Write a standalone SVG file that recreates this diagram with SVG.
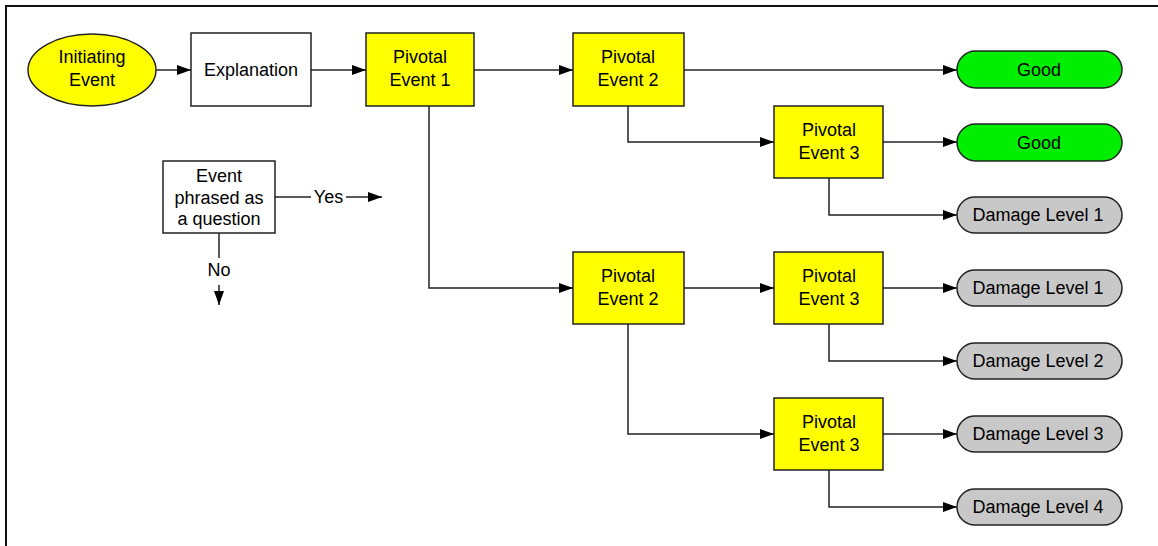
<svg xmlns="http://www.w3.org/2000/svg" width="1158" height="546" viewBox="0 0 1158 546">
<defs>
<marker id="arr" viewBox="0 0 14 10" refX="14" refY="5" markerWidth="14" markerHeight="10" markerUnits="userSpaceOnUse" orient="auto">
<path d="M0,0 L14,5 L0,10 Z" fill="#000"/>
</marker>
<style>
.t{font-family:"Liberation Sans",Arial,sans-serif;font-size:18px;fill:#000;text-anchor:middle}
.box{stroke:#222;stroke-width:1.5}
.yel{fill:#ffff00}
.wht{fill:#fff}
.grn{fill:#00ee00}
.gry{fill:#c8c8c8}
.c{fill:none;stroke:#222;stroke-width:1.5}
.ca{fill:none;stroke:#222;stroke-width:1.5;marker-end:url(#arr)}
</style>
</defs>
<rect width="1158" height="546" fill="#fff"/>
<path d="M6,546 V6 H1158" fill="none" stroke="#111" stroke-width="2"/>
<g id="connectors">
<path class="ca" d="M156,70 H191"/>
<path class="ca" d="M311,70 H366"/>
<path class="ca" d="M474,70 H573"/>
<path class="ca" d="M684,70 H957"/>
<path class="ca" d="M628,106 V142 H774"/>
<path class="ca" d="M883,142 H957"/>
<path class="ca" d="M829,178 V215 H957"/>
<path class="ca" d="M429,106 V288 H573"/>
<path class="ca" d="M684,288 H774"/>
<path class="ca" d="M883,288 H957"/>
<path class="ca" d="M829,324 V361 H957"/>
<path class="ca" d="M628,324 V434 H774"/>
<path class="ca" d="M883,434 H957"/>
<path class="ca" d="M829,470 V507 H957"/>
<path class="c" d="M275,197 H311"/>
<text class="t" x="328.5" y="203">Yes</text>
<path class="ca" d="M346,197 H382"/>
<path class="c" d="M219,233 V258"/>
<text class="t" x="219" y="276">No</text>
<path class="ca" d="M219,285 V305"/>
</g>
<g id="initiating">
<ellipse class="box yel" cx="92" cy="70" rx="64" ry="36"/>
<text class="t" x="92" y="63">Initiating</text>
<text class="t" x="92" y="86">Event</text>
</g>
<g id="explanation">
<rect class="box wht" x="191" y="33" width="120" height="73"/>
<text class="t" x="251" y="76">Explanation</text>
</g>
<g id="question">
<rect class="box wht" x="163" y="161" width="112" height="72"/>
<text class="t" x="219" y="182">Event</text>
<text class="t" x="219" y="204">phrased as</text>
<text class="t" x="219" y="225">a question</text>
</g>
<g id="pe1">
<rect class="box yel" x="366" y="33" width="108" height="73"/>
<text class="t" x="420" y="63">Pivotal</text>
<text class="t" x="420" y="86">Event 1</text>
</g>
<g id="pe2a">
<rect class="box yel" x="573" y="33" width="111" height="73"/>
<text class="t" x="628" y="63">Pivotal</text>
<text class="t" x="628" y="86">Event 2</text>
</g>
<g id="pe3a">
<rect class="box yel" x="774" y="106" width="109" height="72"/>
<text class="t" x="829" y="136">Pivotal</text>
<text class="t" x="829" y="159">Event 3</text>
</g>
<g id="pe2b">
<rect class="box yel" x="573" y="252" width="111" height="72"/>
<text class="t" x="628" y="282">Pivotal</text>
<text class="t" x="628" y="305">Event 2</text>
</g>
<g id="pe3b">
<rect class="box yel" x="774" y="252" width="109" height="72"/>
<text class="t" x="829" y="282">Pivotal</text>
<text class="t" x="829" y="305">Event 3</text>
</g>
<g id="pe3c">
<rect class="box yel" x="774" y="398" width="109" height="72"/>
<text class="t" x="829" y="428">Pivotal</text>
<text class="t" x="829" y="451">Event 3</text>
</g>
<g id="good1">
<rect class="box grn" x="957" y="51" width="165" height="37" rx="18.5"/>
<text class="t" x="1039" y="76">Good</text>
</g>
<g id="good2">
<rect class="box grn" x="957" y="124" width="165" height="37" rx="18.5"/>
<text class="t" x="1039" y="149">Good</text>
</g>
<g id="dl1a">
<rect class="box gry" x="957" y="197" width="165" height="36" rx="18"/>
<text class="t" x="1038" y="221">Damage Level 1</text>
</g>
<g id="dl1b">
<rect class="box gry" x="957" y="270" width="165" height="36" rx="18"/>
<text class="t" x="1038" y="294">Damage Level 1</text>
</g>
<g id="dl2">
<rect class="box gry" x="957" y="343" width="165" height="36" rx="18"/>
<text class="t" x="1038" y="367">Damage Level 2</text>
</g>
<g id="dl3">
<rect class="box gry" x="957" y="416" width="165" height="36" rx="18"/>
<text class="t" x="1038" y="440">Damage Level 3</text>
</g>
<g id="dl4">
<rect class="box gry" x="957" y="489" width="165" height="36" rx="18"/>
<text class="t" x="1038" y="513">Damage Level 4</text>
</g>
</svg>
